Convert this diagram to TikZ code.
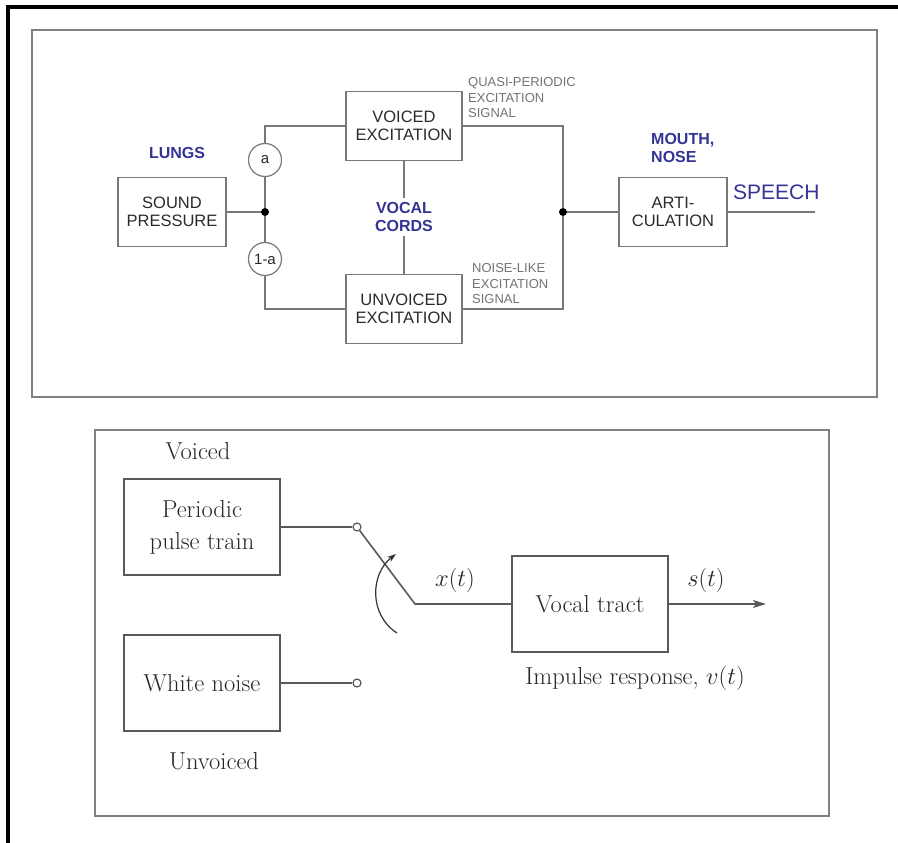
\documentclass[tikz,border=0pt]{standalone}
\usepackage{fix-cm}
\usepackage{amsmath}
\usepackage{fontspec}
\usepackage{tikz}
\usetikzlibrary{calc, shapes, arrows.meta}

\newfontfamily\arialfont{Liberation Sans}
\definecolor{organblue}{RGB}{52,52,150}
\definecolor{wiregray}{RGB}{120,120,120}
\definecolor{inkgray}{RGB}{42,42,42}

\begin{document}
\begin{tikzpicture}[x=1pt, y=-1pt,
        panel/.style={draw=black!50, line width=2.6pt},
        block/.style={draw=wiregray, line width=1.4pt, minimum width=108pt, minimum height=69pt, inner sep=0pt, align=center, text=inkgray, font=\arialfont\fontsize{16.5}{18}\selectfont},
        organ/.style={text=organblue, align=left, inner sep=1pt, font=\arialfont\bfseries\fontsize{16}{18}\selectfont},
        note/.style={text=black!55, align=left, anchor=west, inner sep=0pt, font=\arialfont\fontsize{13}{15.5}\selectfont},
        weight/.style={circle, draw=wiregray, line width=1.2pt, fill=white, minimum size=33pt, inner sep=0pt, text=inkgray, font=\arialfont\fontsize{15}{16}\selectfont},
        dot/.style={circle, fill=black, minimum size=8pt, inner sep=0pt},
        wire/.style={draw=wiregray, line width=1.4pt},
        box/.style={draw=black!65, line width=1.6pt, minimum width=156pt, minimum height=96pt, inner sep=0pt, align=center, text=black!85, font=\fontsize{24.5}{32}\selectfont},
        txt/.style={text=black!85, inner sep=0pt, font=\fontsize{24.5}{32}\selectfont},
        contact/.style={circle, draw=black!65, line width=1.2pt, fill=white, minimum size=8pt, inner sep=0pt},
        link/.style={draw=black!65, line width=1.6pt},
        ]

    \useasboundingbox (0, 0) rectangle (898, 843);
    \draw [line width=4pt] (8, 843) -- (8, 7) -- (898, 7);
    \draw [panel] (32, 30) rectangle (877, 397);
    \draw [panel] (95, 430) rectangle (829, 816);

    \node (sound) at (172, 212) [block] {SOUND\\PRESSURE};
    \node (voiced) at (404, 126) [block, minimum width=116pt] {VOICED\\EXCITATION};
    \node (unvoiced) at (404, 309) [block, minimum width=116pt] {UNVOICED\\EXCITATION};
    \node (artic) at (673, 212) [block] {ARTI-\\CULATION};
    \node (split) at (265, 212) [dot] {};
    \node (merge) at (563, 212) [dot] {};
    \node (wa) at (265, 160) [weight] {a};
    \node (wb) at (265, 259) [weight] {1-a};
    \coordinate (out) at (815, 212);

    \node (lungs) at (177, 153) [organ] {LUNGS};
    \node (cords) at (404, 217) [organ, align=center, inner sep=4pt] {VOCAL\\CORDS};
    \node (mouth) at (650, 148) [organ, anchor=west] {MOUTH,\\NOSE};
    \node (speech) at (732, 192) [organ, anchor=west, font=\arialfont\fontsize{21}{24}\selectfont] {SPEECH};
    \node (quasi) at (468, 98) [note] {QUASI-PERIODIC\\EXCITATION\\SIGNAL};
    \node (noisy) at (472, 284) [note] {NOISE-LIKE\\EXCITATION\\SIGNAL};

    \draw [wire] (sound) -- (split);
    \draw [wire] (split) -- (wa) |- (voiced);
    \draw [wire] (split) -- (wb) |- (unvoiced);
    \draw [wire] (voiced) -| (merge);
    \draw [wire] (unvoiced) -| (merge);
    \draw [wire] (voiced) -- (cords);
    \draw [wire] (cords) -- (unvoiced);
    \draw [wire] (merge) -- (artic);
    \draw [wire] (artic) -- (out);

    \node (voicedtxt) at (198, 451) [txt] {Voiced};
    \node (pulse) at (202, 527) [box] {Periodic\\pulse train};
    \node (white) at (202, 683) [box] {White noise};
    \node (unvoicedtxt) at (214, 761) [txt] {Unvoiced};
    \node (c1) at (357, 527) [contact] {};
    \node (c2) at (357, 683) [contact] {};
    \coordinate (pivot) at (415, 604);
    \node (tract) at (590, 604) [box] {Vocal tract};
    \coordinate (send) at (766, 604);
    \node (xt) at (455, 580) [txt] {$x(t)$};
    \node (st) at (706, 580) [txt] {$s(t)$};
    \node (imp) at (635, 678) [txt] {Impulse response, $v(t)$};
    \coordinate (arcfrom) at (397, 633);
    \coordinate (arcto) at (396, 554);

    \draw [link] (pulse) -- (c1);
    \draw [link] (white) -- (c2);
    \draw [link] (c1) -- (pivot) -- (tract);
    \draw [link, -{Stealth[length=13pt, width=8pt, inset=3pt]}] (tract) -- (send);
    \draw [black!80, line width=1.2pt, -{Stealth[length=9pt, width=6pt]}] (arcfrom) .. controls (369, 615) and (370, 574) .. (arcto);
\end{tikzpicture}
\end{document}
